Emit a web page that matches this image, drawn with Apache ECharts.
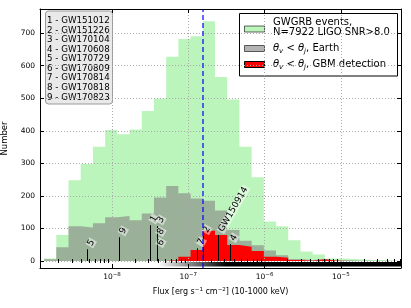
<!DOCTYPE html>
<html><head><meta charset="utf-8">
<script src="https://cdn.jsdelivr.net/npm/echarts@6/dist/echarts.min.js"></script>
<style>html,body{margin:0;padding:0;background:#fff}#c{width:411px;height:308px}</style>
</head><body><div id="c"></div>
<script>
// ---------- data ----------
// histogram bin edges (log10 flux)
const binEdges = [-8.89,-8.73,-8.57,-8.41,-8.25,-8.09,-7.93,-7.77,-7.61,-7.45,-7.29,-7.13,-6.97,-6.81,-6.65,-6.49,-6.33,-6.17,-6.01,-5.85,-5.69,-5.53,-5.37,-5.21,-5.05,-4.89,-4.73,-4.57,-4.41,-4.25];
const allEvents   = [8,80,248,298,351,402,389,404,461,499,627,682,690,736,565,496,351,257,121,107,64,29,20,8,7,5,3,2,2];
const earthEvents = [5,42,107,103,116,134,138,125,146,195,230,208,192,185,155,95,62,48,32,18,6,3,6,2,2,1,1,1,1];
const gbmEvents   = [0,0,0,0,0,0,0,0,0,0,2,13,34,93,80,49,44,31,13,10,3,1,5,1,0,0,0,0,0];
const xTickLogs = [-8,-7,-6,-5];
const yTicks = [0,100,200,300,400,500,600,700];
const eventNames = ['GW151012','GW151226','GW170104','GW170608','GW170729','GW170809','GW170814','GW170818','GW170823'];
const markerLabels  = ['1','2','3','4','5','6','7','8','9','GW150914'];
const markerLogFlux = [-7.502,-6.807,-7.41,-6.453,-8.324,-7.41,-6.882,-7.41,-7.904,-6.607];
const markerHeight  = [110,77,107,52,36,37,39,71,73,80];
const thresholdLogFlux = -6.811;
const bandFade = [-7.4,-6.5];
const legendTexts = ['GWGRB events,\nN=7922 LIGO SNR>8.0', 'Earth', 'GBM detection'];

// ---------- chart ----------
const FONT = 'DejaVu Sans';
const xMin = -8.9436, xMax = -4.2123, yMin = -21.5, yMax = 774;
const minorTicks = [];
for (let n = -9; n <= -5; n++) for (let k = 2; k <= 9; k++) {
  const v = n + Math.log10(k); if (v > xMin && v < xMax) minorTicks.push(v);
}
function stepData(vals){ const d = vals.map((v,i)=>[binEdges[i], v]); d.push([binEdges[vals.length], vals[vals.length-1]]); return d; }
function histSeries(vals, color, z){
  return {type:'line', step:'end', data:stepData(vals), showSymbol:false, symbol:'none',
    lineStyle:{width:0, opacity:0}, areaStyle:{color, opacity:1, origin:0}, z, silent:true, animation:false};
}
const supRich = {b:{fontSize:7.5, fontFamily:FONT, color:'#000'}, s:{fontSize:5.5, fontFamily:FONT, color:'#000', padding:[0,0,5,0]}};
const chart = echarts.init(document.getElementById('c'));
const baseX = {type:'value', min:xMin, max:xMax, z:5};
const baseY = {type:'value', min:yMin, max:yMax, z:5};
const option = {
  animation:false,
  grid:{left:40, right:10, top:9, bottom:40, containLabel:false, outerBoundsMode:'none'},
  xAxis:[
    Object.assign({}, baseX, {position:'bottom',
      name:'{n|Flux [erg s}{s|\u22121}{n| cm}{s|\u22122}{n|] (10-1000 keV)}', nameLocation:'middle', nameGap:15,
      nameTextStyle:{rich:{n:{fontSize:8, fontFamily:FONT, color:'#000'}, s:{fontSize:5.5, fontFamily:FONT, color:'#000', padding:[0,0,5,0]}}},
      axisLine:{show:true, onZero:false, lineStyle:{color:'#000', width:1}},
      axisTick:{show:true, inside:true, length:4, customValues:xTickLogs, lineStyle:{color:'#000'}},
      axisLabel:{customValues:xTickLogs, margin:4, formatter:v=>'{b|10}{s|'+(v<0?'\u2212':'')+Math.abs(Math.round(v))+'}', rich:supRich},
      splitLine:{show:true, lineStyle:{color:'#aaa', type:[1,2], width:1}}}),
    Object.assign({}, baseX, {position:'bottom', axisLine:{show:false},
      axisTick:{show:true, inside:true, length:2, customValues:minorTicks, lineStyle:{color:'#000'}},
      axisLabel:{show:false}, splitLine:{show:false}}),
    Object.assign({}, baseX, {position:'top', axisLine:{show:true, onZero:false, lineStyle:{color:'#000', width:1}},
      axisTick:{show:true, inside:true, length:4, customValues:xTickLogs, lineStyle:{color:'#000'}},
      axisLabel:{show:false}, splitLine:{show:false}}),
    Object.assign({}, baseX, {position:'top', axisLine:{show:false},
      axisTick:{show:true, inside:true, length:2, customValues:minorTicks, lineStyle:{color:'#000'}},
      axisLabel:{show:false}, splitLine:{show:false}})
  ],
  yAxis:[
    Object.assign({}, baseY, {position:'left', name:'Number', nameLocation:'middle', nameGap:21,
      nameTextStyle:{fontSize:8.5, fontFamily:FONT, color:'#000'},
      axisLine:{show:true, onZero:false, lineStyle:{color:'#000', width:1}},
      axisTick:{show:true, inside:true, length:4, customValues:yTicks, lineStyle:{color:'#000'}},
      axisLabel:{customValues:yTicks, margin:5, fontSize:7.5, fontFamily:FONT, color:'#000'},
      splitLine:{show:true, lineStyle:{color:'#aaa', type:[1,2], width:1}}}),
    Object.assign({}, baseY, {position:'right', axisLine:{show:true, onZero:false, lineStyle:{color:'#000', width:1}},
      axisTick:{show:true, inside:true, length:4, customValues:yTicks, lineStyle:{color:'#000'}},
      axisLabel:{show:false}, splitLine:{show:false}})
  ],
  series:[
    histSeries(allEvents, 'rgb(188,245,188)', 1),
    histSeries(earthEvents, 'rgb(154,176,152)', 2),
    histSeries(gbmEvents, 'rgb(255,0,0)', 3),
    {type:'custom', z:3.5, silent:true, data:[[xMin, xMax]], encode:{x:[0,1]},
      renderItem:(params, api)=>{
        const a = api.coord([api.value(0), -3]), b = api.coord([api.value(1), -17]);
        const f0 = api.coord([bandFade[0], 0])[0], f1 = api.coord([bandFade[1], 0])[0];
        return {type:'rect', shape:{x:a[0], y:a[1], width:b[0]-a[0], height:b[1]-a[1]},
          style:{fill:new echarts.graphic.LinearGradient(f0, 0, f1, 0, [{offset:0,color:'#fff'},{offset:1,color:'#000'}], true)}};
      }},
    {type:'custom', z:4, silent:true, data:markerLogFlux.map((x,i)=>[x, markerHeight[i], i]), encode:{x:0, y:1},
      renderItem:(params, api)=>{
        const x = api.value(0), h = api.value(1), i = api.value(2);
        const top = api.coord([x, h]), bot = api.coord([x, 0]);
        const px = Math.round(top[0]) + 0.5;
        return {type:'group', children:[
          {type:'line', shape:{x1:px, y1:bot[1], x2:px, y2:top[1]}, style:{stroke:'#000', lineWidth:1}},
          {type:'text', x:top[0]+2, y:top[1]-3, rotation:Math.PI/3, z2:10,
            style:{text:markerLabels[i], fontSize:9, fontFamily:FONT, fill:'#000', align:'left', verticalAlign:'middle',
              backgroundColor:'rgba(255,255,255,0.5)', padding:[0,1,0,1]}}
        ]};
      }},
    {type:'line', data:[], z:4.5, silent:true,
      markLine:{silent:true, symbol:'none', label:{show:false}, animation:false,
        lineStyle:{color:'rgba(0,0,255,0.6)', type:[5,3], width:2},
        data:[{xAxis:thresholdLogFlux}]}}
  ],
  graphic:[
    {type:'group', z:100, children:[
      {type:'rect', shape:{x:45.5, y:11, width:67, height:93, r:3}, style:{fill:'#e9e9e9', stroke:'#999', lineWidth:1}},
      {type:'text', x:47, y:15.9, style:{text:eventNames.map((n,i)=>(i+1)+' - '+n).join('\n'), fontSize:8.7, lineHeight:9.58,
        fontFamily:FONT, fill:'#000', align:'left', verticalAlign:'top'}}
    ]},
    {type:'group', z:100, children:[
      {type:'rect', shape:{x:239.5, y:13.5, width:158, height:62.5}, style:{fill:'#fff', stroke:'#000', lineWidth:1}},
      {type:'rect', shape:{x:244.5, y:26, width:20, height:6}, style:{fill:'rgb(188,245,188)', stroke:'rgba(0,0,0,0.6)', lineWidth:1}},
      {type:'rect', shape:{x:244.5, y:45.5, width:20, height:6}, style:{fill:'rgb(179,179,179)', stroke:'rgba(0,0,0,0.6)', lineWidth:1}},
      {type:'rect', shape:{x:244.5, y:61.5, width:20, height:6}, style:{fill:'rgb(255,0,0)', stroke:'#000', lineWidth:1}},
      {type:'text', x:273, y:27.5, style:{text:legendTexts[0], fontSize:10, lineHeight:10.6, fontFamily:FONT, fill:'#000', align:'left', verticalAlign:'middle'}},
      {type:'text', x:273, y:48.5, style:{text:'{t|θ}{s|v}{n| < }{t|θ}{s|j}{n|, '+legendTexts[1]+'}', align:'left', verticalAlign:'middle',
        rich:{t:{fontSize:10, fontStyle:'italic', fontFamily:FONT, fill:'#000'}, s:{fontSize:7, fontStyle:'italic', fontFamily:FONT, fill:'#000', padding:[5,0,0,0]}, n:{fontSize:10, fontFamily:FONT, fill:'#000'}}}},
      {type:'text', x:273, y:64.5, style:{text:'{t|θ}{s|v}{n| < }{t|θ}{s|j}{n|, '+legendTexts[2]+'}', align:'left', verticalAlign:'middle',
        rich:{t:{fontSize:10, fontStyle:'italic', fontFamily:FONT, fill:'#000'}, s:{fontSize:7, fontStyle:'italic', fontFamily:FONT, fill:'#000', padding:[5,0,0,0]}, n:{fontSize:10, fontFamily:FONT, fill:'#000'}}}}
    ]}
  ]
};
chart.setOption(option);
</script></body></html>
